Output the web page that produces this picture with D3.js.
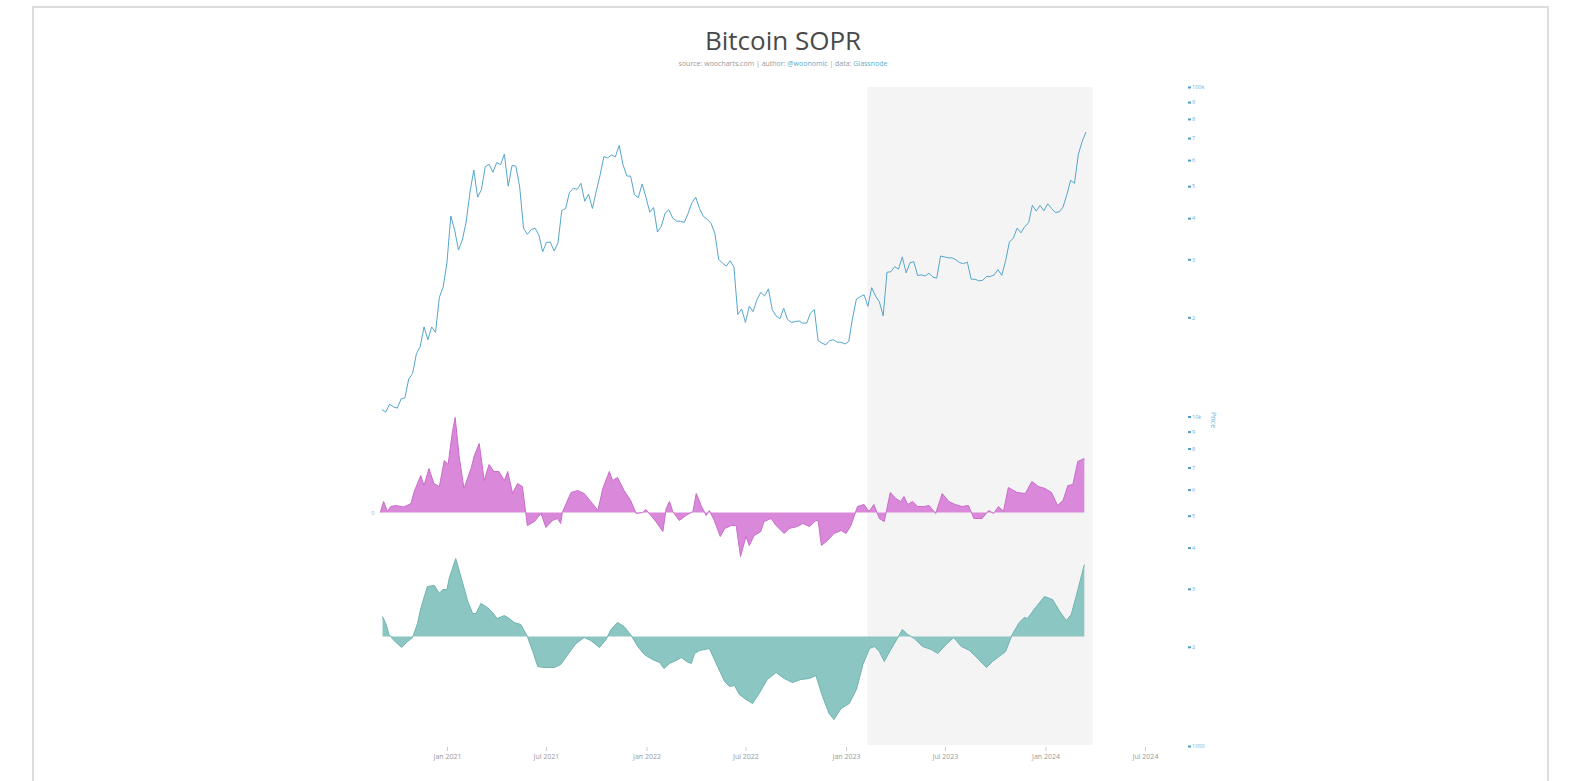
<!DOCTYPE html>
<html>
<head>
<meta charset="utf-8">
<title>Bitcoin SOPR</title>
<script src="https://cdn.jsdelivr.net/npm/d3@7"></script>
<style>
  body { margin: 0; background: #fff; }
  text { font-family: "Open Sans", sans-serif; }
</style>
</head>
<body>
<script>
// weekly BTC price (USD), one value per Friday from priceStart
var priceStart = "2020-09-04";
var priceWeekly = [
  10500, 10300, 10900, 10700,                 // Sep 2020
  10600, 11300, 11400, 13000, 13500,          // Oct
  15500, 16300, 18700, 17100,                 // Nov
  18700, 18000, 23000, 24700,                 // Dec
  29400, 40600, 36800, 32000, 34300,          // Jan 2021
  38900, 47900, 56000, 46300,                 // Feb
  48800, 57300, 58300, 55100,                 // Mar
  59000, 58100, 62500, 50000, 57800,          // Apr
  57500, 49700, 37300, 35700,                 // May
  36900, 37300, 35600, 31600,                 // Jun
  33800, 33800, 31800, 33600, 42200,          // Jul
  42800, 47800, 49300, 48900,                 // Aug
  51000, 45000, 47300, 42800,                 // Sep
  48200, 53900, 61500, 60900, 62200,          // Oct
  61400, 66500, 58100, 53700,                 // Nov
  53600, 47100, 46200, 50800, 46300,          // Dec
  41700, 43100, 36300, 37700,                 // Jan 2022
  41400, 42400, 40000, 39200,                 // Feb
  39100, 38800, 41300, 44500,                 // Mar
  46300, 42800, 40500, 39700, 38600,          // Apr
  36000, 30000, 29200, 28600,                 // May
  29700, 28400, 20400, 21200,                 // Jun
  19300, 21600, 20800, 22600, 23800,          // Jul
  23200, 24400, 21100, 20200,                 // Aug
  19800, 21300, 19700, 19300, 19400,          // Sep
  19500, 19200, 19200, 20600,                 // Oct
  21100, 17000, 16700, 16500,                 // Nov
  17000, 17100, 16800, 16800, 16600,          // Dec
  16900, 19900, 22700, 23100,                 // Jan 2023
  23400, 21600, 24600, 23200,                 // Feb
  22300, 20200, 27400, 27500, 28500,          // Mar
  28000, 30500, 27300, 29300,                 // Apr
  29500, 26800, 26900, 26700,                 // May
  27200, 26500, 26300, 30700, 30500,          // Jun
  30300, 30300, 29900, 29300,                 // Jul
  29100, 29400, 26100, 26100,                 // Aug
  25800, 25900, 26600, 26600, 26900,          // Sep
  27900, 26800, 29700, 33900,                 // Oct
  34700, 37300, 36100, 37700,                 // Nov
  38700, 43800, 42000, 43700, 42100,          // Dec
  44200, 42800, 41600, 41800,                 // Jan 2024
  43200, 47100, 52100, 51000,                 // Feb
  62400, 68300, 73000                         // Mar
];

// short-term SOPR oscillator (upper, magenta)
var soprShort = [
  ["2020-09-01", 0], ["2020-09-07", 1.1], ["2020-09-14", 0.1], ["2020-09-20", 0.6],
  ["2020-09-29", 0.7], ["2020-10-14", 0.55], ["2020-10-27", 0.9], ["2020-11-02", 2.1],
  ["2020-11-14", 3.7], ["2020-11-20", 2.7], ["2020-11-29", 4.4], ["2020-12-08", 2.9],
  ["2020-12-18", 2.6], ["2020-12-27", 5.2], ["2021-01-03", 4.8], ["2021-01-11", 8.1],
  ["2021-01-16", 9.5], ["2021-01-23", 5.7], ["2021-02-01", 2.4], ["2021-02-14", 4.4],
  ["2021-02-20", 5.7], ["2021-03-01", 6.9], ["2021-03-10", 3.2], ["2021-03-19", 4.8],
  ["2021-03-28", 4.1], ["2021-04-06", 4.1], ["2021-04-16", 3.2], ["2021-04-22", 4.1],
  ["2021-05-01", 1.9], ["2021-05-10", 2.9], ["2021-05-19", 2.6], ["2021-05-25", 0],
  ["2021-05-28", -1.3], ["2021-06-10", -0.9], ["2021-06-22", -0.1], ["2021-07-01", -1.5],
  ["2021-07-13", -0.8], ["2021-07-22", -0.6], ["2021-07-28", -1.1], ["2021-07-31", 0],
  ["2021-08-07", 0.9], ["2021-08-16", 2.0], ["2021-08-28", 2.2], ["2021-09-09", 1.9],
  ["2021-09-21", 1.1], ["2021-10-04", 0.2], ["2021-10-13", 2.4], ["2021-10-25", 4.1],
  ["2021-10-31", 3.2], ["2021-11-09", 3.5], ["2021-11-21", 2.2], ["2021-12-03", 1.2],
  ["2021-12-13", -0.1], ["2021-12-25", 0], ["2021-12-31", 0.3], ["2022-01-09", -0.3],
  ["2022-01-18", -0.9], ["2022-01-31", -1.9], ["2022-02-06", 0.4], ["2022-02-12", 1.1],
  ["2022-02-18", 0.1], ["2022-03-02", -0.8], ["2022-03-14", -0.3], ["2022-03-27", 0.1],
  ["2022-04-02", 1.9], ["2022-04-11", 0.7], ["2022-04-20", -0.3], ["2022-04-26", 0.2],
  ["2022-05-05", -0.8], ["2022-05-16", -2.4], ["2022-05-24", -1.6], ["2022-06-05", -1.3],
  ["2022-06-14", -1.3], ["2022-06-22", -4.4], ["2022-07-02", -2.4], ["2022-07-08", -3.3],
  ["2022-07-17", -2.3], ["2022-07-29", -1.9], ["2022-08-04", -0.9], ["2022-08-17", -0.6],
  ["2022-08-26", -1.3], ["2022-09-10", -2.1], ["2022-09-19", -1.6], ["2022-10-04", -1.4],
  ["2022-10-14", -1.1], ["2022-10-26", -1.4], ["2022-11-07", -0.8], ["2022-11-11", -0.8],
  ["2022-11-17", -3.3], ["2022-11-28", -2.8], ["2022-12-10", -2.1], ["2022-12-23", -1.8],
  ["2023-01-01", -2.1], ["2023-01-10", -1.3], ["2023-01-22", 0.6], ["2023-02-03", 0.8],
  ["2023-02-12", 0.1], ["2023-02-21", 0.8], ["2023-03-03", -0.6], ["2023-03-12", -0.9],
  ["2023-03-23", 2.0], ["2023-04-02", 1.4], ["2023-04-11", 1.1], ["2023-04-17", 1.6],
  ["2023-04-24", 0.8], ["2023-05-03", 1.1], ["2023-05-12", 0.6], ["2023-05-24", 0.6],
  ["2023-06-02", 0.7], ["2023-06-14", -0.1], ["2023-06-26", 1.9], ["2023-07-08", 1.1],
  ["2023-07-20", 0.8], ["2023-08-01", 0.6], ["2023-08-13", 0.7], ["2023-08-23", -0.6],
  ["2023-09-07", -0.6], ["2023-09-19", 0.2], ["2023-09-28", -0.1], ["2023-10-07", 0.6],
  ["2023-10-16", 0.1], ["2023-10-25", 2.5], ["2023-11-10", 2.0], ["2023-11-25", 1.9],
  ["2023-12-07", 3.1], ["2023-12-19", 2.6], ["2023-12-31", 2.4], ["2024-01-12", 2.0],
  ["2024-01-23", 0.7], ["2024-02-02", 1.2], ["2024-02-11", 2.7], ["2024-02-20", 2.8],
  ["2024-02-29", 5.1], ["2024-03-12", 5.4]
];

// longer-term SOPR oscillator (lower, teal)
var soprLong = [
  ["2020-09-05", 2.0], ["2020-09-11", 1.3], ["2020-09-17", 0.2], ["2020-09-26", -0.4],
  ["2020-10-10", -1.1], ["2020-10-21", -0.5], ["2020-10-30", -0.1], ["2020-11-08", 1.3],
  ["2020-11-14", 2.8], ["2020-11-26", 5.0], ["2020-12-09", 5.1], ["2020-12-18", 4.3],
  ["2020-12-24", 4.7], ["2021-01-01", 4.7], ["2021-01-05", 5.8], ["2021-01-17", 7.8],
  ["2021-01-30", 5.3], ["2021-02-08", 3.5], ["2021-02-17", 2.3], ["2021-02-23", 2.3],
  ["2021-03-04", 3.3], ["2021-03-16", 2.9], ["2021-03-25", 2.4], ["2021-04-03", 1.8],
  ["2021-04-16", 2.1], ["2021-04-25", 1.8], ["2021-05-04", 1.4], ["2021-05-16", 1.2],
  ["2021-05-28", 0], ["2021-06-07", -1.5], ["2021-06-16", -3.0], ["2021-06-28", -3.1],
  ["2021-07-16", -3.1], ["2021-07-28", -2.8], ["2021-08-10", -1.8], ["2021-08-25", -0.7],
  ["2021-09-09", -0.1], ["2021-09-21", -0.4], ["2021-10-07", -1.1], ["2021-10-19", -0.3],
  ["2021-10-28", 0.7], ["2021-11-09", 1.4], ["2021-11-21", 1.0], ["2021-12-04", 0.1],
  ["2021-12-16", -1.0], ["2021-12-28", -1.8], ["2022-01-12", -2.3], ["2022-01-25", -2.6],
  ["2022-02-02", -3.2], ["2022-02-12", -2.7], ["2022-02-24", -2.4], ["2022-03-06", -2.1],
  ["2022-03-15", -2.5], ["2022-03-24", -2.7], ["2022-03-30", -1.7], ["2022-04-08", -1.4],
  ["2022-04-26", -1.2], ["2022-05-11", -3.0], ["2022-05-24", -4.5], ["2022-06-02", -5.0],
  ["2022-06-11", -4.9], ["2022-06-20", -5.8], ["2022-07-02", -6.3], ["2022-07-14", -6.7],
  ["2022-07-26", -5.7], ["2022-08-10", -4.3], ["2022-08-26", -3.6], ["2022-09-10", -4.2],
  ["2022-09-25", -4.6], ["2022-10-10", -4.3], ["2022-10-26", -4.2], ["2022-11-07", -3.9],
  ["2022-11-19", -6.0], ["2022-12-01", -7.7], ["2022-12-10", -8.3], ["2022-12-23", -7.2],
  ["2023-01-07", -6.7], ["2023-01-20", -5.3], ["2023-02-01", -2.8], ["2023-02-13", -1.2],
  ["2023-02-22", -1.0], ["2023-03-03", -1.5], ["2023-03-12", -2.5], ["2023-03-24", -1.3],
  ["2023-04-05", -0.2], ["2023-04-14", 0.7], ["2023-04-24", 0.2], ["2023-05-06", -0.2],
  ["2023-05-21", -1.0], ["2023-06-06", -1.3], ["2023-06-18", -1.7], ["2023-07-03", -0.8],
  ["2023-07-17", -0.1], ["2023-07-31", -1.0], ["2023-08-15", -1.4], ["2023-08-30", -2.2],
  ["2023-09-15", -3.1], ["2023-09-26", -2.5], ["2023-10-08", -2.0], ["2023-10-20", -1.5],
  ["2023-11-01", 0.2], ["2023-11-14", 1.4], ["2023-11-23", 1.9], ["2023-11-29", 1.8],
  ["2023-12-11", 2.7], ["2023-12-30", 4.0], ["2024-01-14", 3.7], ["2024-01-27", 2.5],
  ["2024-02-08", 1.6], ["2024-02-17", 2.2], ["2024-02-26", 4.0], ["2024-03-12", 7.2]
];

var shadeBand = ["2023-02-09", "2024-03-27"];
var xTicks = ["2021-01-01", "2021-07-01", "2022-01-01", "2022-07-01",
              "2023-01-01", "2023-07-01", "2024-01-01", "2024-07-01"];
var priceTicks = [1000, 2000, 3000, 4000, 5000, 6000, 7000, 8000, 9000,
                  10000, 20000, 30000, 40000, 50000, 60000, 70000, 80000, 90000, 100000];
var priceTickLabels = ["1000", "2", "3", "4", "5", "6", "7", "8", "9",
                       "10k", "2", "3", "4", "5", "6", "7", "8", "9", "100k"];

var w = 1572, h = 781;
var parse = d3.utcParse("%Y-%m-%d");

var svg = d3.select("body").append("svg")
    .attr("width", w)
    .attr("height", h);

// outer frame
svg.append("path")
    .attr("d", "M33," + h + "V7H1548V" + h)
    .attr("fill", "none")
    .attr("stroke", "#dcdcdc")
    .attr("stroke-width", 2);

// scales
var x = d3.scaleUtc()
    .domain([parse("2021-01-01"), parse("2024-07-01")])
    .range([447, 1145]);
var yPrice = d3.scaleLog().domain([1000, 100000]).range([746, 87]);
var yShort = d3.scaleLinear().domain([-4.5, 9.5]).range([557.5, 417.5]);
var yLong = d3.scaleLinear().domain([-8.5, 8]).range([721.5, 556.5]);

// shaded band
svg.append("rect")
    .attr("x", x(parse(shadeBand[0])))
    .attr("y", 87)
    .attr("width", x(parse(shadeBand[1])) - x(parse(shadeBand[0])))
    .attr("height", 658)
    .attr("fill", "#f4f4f4");

// title
svg.append("text")
    .attr("x", 783).attr("y", 50)
    .attr("text-anchor", "middle")
    .attr("font-size", 26)
    .attr("fill", "#4a4a4a")
    .text("Bitcoin SOPR");

var sub = svg.append("text")
    .attr("x", 783).attr("y", 66)
    .attr("text-anchor", "middle")
    .attr("font-size", 7)
    .attr("fill", "#999");
sub.append("tspan").text("source: woocharts.com | author: ");
sub.append("tspan").attr("fill", "#5aaed4").text("@woonomic");
sub.append("tspan").text(" | data: ");
sub.append("tspan").attr("fill", "#5aaed4").text("Glassnode");

// oscillator areas
function drawArea(data, y, fill, stroke) {
    var pts = data.map(function (d) { return [parse(d[0]), d[1]]; });
    var area = d3.area()
        .x(function (d) { return x(d[0]); })
        .y0(y(0))
        .y1(function (d) { return y(d[1]); });
    var line = d3.line()
        .x(function (d) { return x(d[0]); })
        .y(function (d) { return y(d[1]); });
    svg.append("path").datum(pts)
        .attr("d", area)
        .attr("fill", fill);
    svg.append("path").datum(pts)
        .attr("d", line)
        .attr("fill", "none")
        .attr("stroke", stroke)
        .attr("stroke-width", 1);
}
drawArea(soprShort, yShort, "#da88da", "#c96ccb");
drawArea(soprLong, yLong, "#8cc6c2", "#6fb4af");

svg.append("text")
    .attr("x", 373).attr("y", yShort(0) + 2)
    .attr("text-anchor", "middle")
    .attr("font-size", 6)
    .attr("fill", "#aaa")
    .text("0");

// price line
var priceData = priceWeekly.map(function (v, i) {
    return [d3.utcDay.offset(parse(priceStart), 7 * i), v];
});
svg.append("path").datum(priceData)
    .attr("d", d3.line()
        .x(function (d) { return x(d[0]); })
        .y(function (d) { return yPrice(d[1]); }))
    .attr("fill", "none")
    .attr("stroke", "#55a6cc")
    .attr("stroke-width", 1);

// x axis
var xAxis = svg.append("g")
    .attr("transform", "translate(0,747)")
    .call(d3.axisBottom(x)
        .tickValues(xTicks.map(parse))
        .tickFormat(d3.utcFormat("%b %Y"))
        .tickSize(4)
        .tickPadding(3));
xAxis.select(".domain").remove();
xAxis.selectAll("line").attr("stroke", "#ccc");
xAxis.selectAll("text")
    .attr("fill", "#999")
    .style("font-size", "7px")
    .style("font-family", "'Open Sans', sans-serif");

// price axis on the right
var yAxis = svg.append("g")
    .attr("transform", "translate(1188,0)")
    .call(d3.axisRight(yPrice)
        .tickValues(priceTicks)
        .tickFormat(function (d, i) { return priceTickLabels[i]; })
        .tickSize(3)
        .tickPadding(1));
yAxis.select(".domain").remove();
yAxis.selectAll("line").attr("stroke", "#4c9fc8").attr("stroke-width", 2);
yAxis.selectAll("text")
    .attr("fill", "#6cb3d6")
    .style("font-size", "5.5px")
    .style("font-family", "'Open Sans', sans-serif");

svg.append("text")
    .attr("transform", "translate(1211,420) rotate(90)")
    .attr("text-anchor", "middle")
    .attr("font-size", 7)
    .attr("fill", "#6cb3d6")
    .text("Price");
</script>
</body>
</html>
